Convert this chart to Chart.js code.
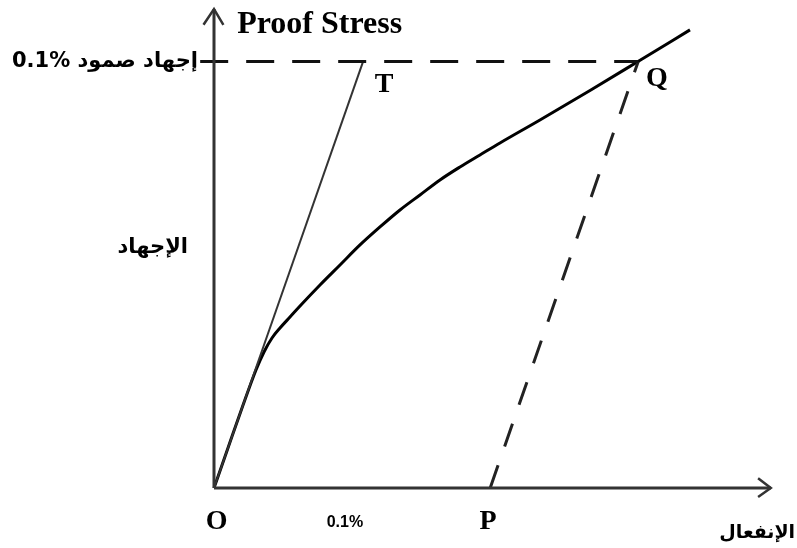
<!DOCTYPE html>
<html>
<head>
<meta charset="utf-8">
<script src="https://cdn.jsdelivr.net/npm/chart.js@4"></script>
<style>
  body { margin: 0; background: #fff; }
</style>
</head>
<body>
<canvas id="grafico" width="797" height="548"></canvas>
<script>
// strain (x) and stress (y) in arbitrary units, proof stress level = 10
const curvaX = [0, 0.253, 0.507, 0.76, 0.905, 1.05, 1.195, 1.376, 1.557, 1.919, 2.281, 2.643, 3.005, 3.367, 3.729, 4.091, 4.453, 4.815, 5.177, 5.901, 6.807, 7.676, 8.617];
const curvaY = [0, 0.938, 1.876, 2.767, 3.189, 3.517, 3.751, 4.009, 4.267, 4.760, 5.229, 5.698, 6.120, 6.518, 6.870, 7.222, 7.526, 7.808, 8.089, 8.628, 9.320, 10.0, 10.74];

const tangenteX = [0, 2.70];
const tangenteY = [0, 10];

const paralelaX = [5.0, 7.68];
const paralelaY = [0, 10];

const provaX = [-0.25, 7.68];
const provaY = [10, 10];

const eixoXx = [0, 10.08];
const eixoXy = [0, 0];
const setaXx = [9.85, 10.08, 9.85];
const setaXy = [0.23, 0, -0.21];

const eixoYx = [0, 0];
const eixoYy = [0, 11.23];
const setaYx = [-0.19, 0, 0.17];
const setaYy = [10.86, 11.23, 10.86];

const pontos = (xs, ys) => xs.map((x, i) => ({ x, y: ys[i] }));

const serif = "bold 28px 'Liberation Serif', 'Times New Roman', serif";
const rotulos = [
  { texto: 'Proof Stress', x: 0.42, y: 10.67, fonte: "bold 32px 'Liberation Serif', serif", alinhar: 'left', base: 'alphabetic' },
  { texto: '0.1% إجهاد صمود', x: -0.29, y: 10.0, fonte: "bold 21px 'DejaVu Sans', Arial, sans-serif", alinhar: 'right' },
  { texto: 'الإجهاد', x: -0.47, y: 5.63, fonte: "bold 21px 'DejaVu Sans', Arial, sans-serif", alinhar: 'right' },
  { texto: 'T', x: 3.08, y: 9.45, fonte: serif, alinhar: 'center' },
  { texto: 'Q', x: 8.02, y: 9.6, fonte: serif, alinhar: 'center' },
  { texto: 'O', x: 0.05, y: -0.80, fonte: serif, alinhar: 'center' },
  { texto: '0.1%', x: 2.37, y: -0.80, fonte: "bold 16px Arial, 'Liberation Sans', sans-serif", alinhar: 'center' },
  { texto: 'P', x: 4.96, y: -0.80, fonte: serif, alinhar: 'center' },
  { texto: 'الإنفعال', x: 10.52, y: -1.06, fonte: "bold 19px 'DejaVu Sans', Arial, sans-serif", alinhar: 'right' }
];

const pluginRotulos = {
  id: 'rotulos',
  afterDatasetsDraw(chart) {
    const ctx = chart.ctx;
    const sx = chart.scales.x;
    const sy = chart.scales.y;
    ctx.save();
    ctx.fillStyle = '#000';
    rotulos.forEach(r => {
      ctx.font = r.fonte;
      ctx.textAlign = r.alinhar;
      ctx.textBaseline = r.base || 'middle';
      ctx.fillText(r.texto, sx.getPixelForValue(r.x), sy.getPixelForValue(r.y));
    });
    ctx.restore();
  }
};

const linha = (data, cor, largura, extra = {}) => Object.assign({
  data,
  borderColor: cor,
  borderWidth: largura,
  showLine: true,
  pointRadius: 0,
  fill: false,
  clip: false
}, extra);

new Chart(document.getElementById('grafico').getContext('2d'), {
  type: 'scatter',
  data: {
    datasets: [
      linha(pontos(eixoXx, eixoXy), '#333', 3),
      linha(pontos(setaXx, setaXy), '#333', 2.5),
      linha(pontos(eixoYx, eixoYy), '#333', 3),
      linha(pontos(setaYx, setaYy), '#333', 2.5),
      linha(pontos(provaX, provaY), '#111', 3, { borderDash: [28, 18] }),
      linha(pontos(paralelaX, paralelaY), '#222', 3, { borderDash: [24, 20] }),
      linha(pontos(tangenteX, tangenteY), '#333', 2),
      linha(pontos(curvaX, curvaY), '#000', 3, { cubicInterpolationMode: 'monotone' })
    ]
  },
  options: {
    responsive: false,
    animation: false,
    layout: { padding: { left: 214, right: 3, top: 6, bottom: 60 } },
    plugins: { legend: { display: false }, tooltip: { enabled: false } },
    scales: {
      x: { type: 'linear', min: 0, max: 10.5, display: false },
      y: { type: 'linear', min: 0, max: 11.3, display: false }
    }
  },
  plugins: [pluginRotulos]
});
</script>
</body>
</html>
